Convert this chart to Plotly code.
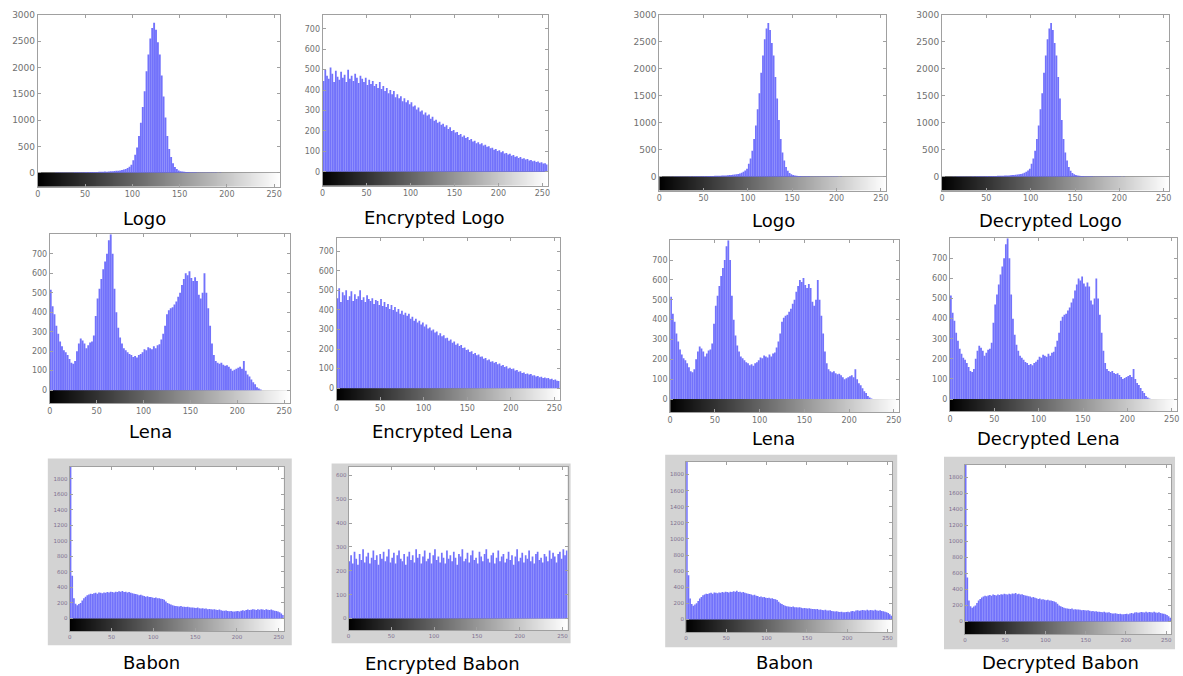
import plotly.graph_objects as go

W, H = 1183, 676

# ---- data: histogram counts in 2-level bins (left edges 0,2,...,254) ----
bin_left = list(range(0, 256, 2))
gray_levels = list(range(256))

logo = [0, 0, 0, 0, 1, 0, 2, 1, 2, 3,
        3, 4, 3, 5, 4, 6, 5, 7, 6, 8,
        8, 9, 10, 9, 11, 12, 11, 13, 14, 13,
        15, 16, 18, 17, 20, 22, 21, 25, 27, 30,
        33, 36, 40, 45, 52, 60, 72, 90, 115, 150,
        240, 340, 480, 700, 950, 1250, 1550, 1930, 2250, 2550,
        2750, 2850, 2720, 2480, 2250, 1850, 1450, 1050, 700, 450,
        300, 180, 110, 70, 45, 30, 22, 18, 14, 12,
        10, 9, 8, 8, 7, 6, 6, 5, 5, 4,
        4, 4, 3, 3, 3, 2, 3, 2, 2, 2,
        2, 1, 2, 1, 1, 1, 0, 1, 0, 0,
        0, 0, 0, 0, 0, 0, 0, 0, 0, 0,
        0, 0, 0, 0, 0, 0, 0, 0]

enc_logo = [445, 500, 470, 455, 510, 480, 440, 495, 465, 450,
            490, 460, 475, 440, 500, 455, 470, 445, 480, 460,
            435, 470, 455, 440, 460, 425, 450, 430, 445, 420,
            430, 410, 440, 405, 420, 395, 410, 385, 400, 380,
            395, 365, 380, 360, 370, 345, 360, 340, 350, 330,
            340, 320, 325, 305, 315, 295, 300, 280, 290, 275,
            280, 260, 270, 250, 255, 240, 245, 230, 235, 220,
            228, 210, 218, 200, 205, 192, 195, 180, 185, 172,
            178, 165, 170, 155, 160, 148, 152, 140, 145, 135,
            140, 128, 132, 122, 125, 115, 118, 108, 112, 102,
            105, 96, 100, 90, 92, 85, 88, 78, 82, 74,
            76, 68, 72, 64, 66, 60, 62, 55, 58, 52,
            54, 48, 50, 44, 46, 40, 42, 36]

lena = [515, 430, 390, 330, 290, 250, 225, 205, 195, 180,
        160, 140, 135, 150, 200, 240, 265, 255, 240, 215,
        230, 245, 250, 280, 380, 470, 520, 570, 620, 660,
        700, 770, 800, 700, 520, 400, 320, 270, 240, 215,
        205, 195, 185, 180, 170, 175, 168, 180, 186, 195,
        210, 205, 220, 215, 210, 225, 215, 230, 235, 260,
        290, 330, 390, 410, 420, 425, 440, 455, 480, 500,
        540, 570, 600, 590, 610, 575, 560, 580, 560, 490,
        470, 500, 600, 500, 420, 330, 240, 180, 150, 140,
        135, 140, 130, 125, 128, 120, 110, 100, 105, 110,
        115, 120, 110, 150, 100, 80, 70, 55, 40, 30,
        15, 8, 3, 0, 0, 0, 0, 0, 0, 0,
        0, 0, 0, 0, 0, 0, 0, 0]

enc_lena = [460, 510, 440, 490, 475, 500, 450, 470, 495, 445,
            480, 455, 470, 500, 450, 465, 440, 475, 455, 445,
            460, 430, 450, 445, 425, 455, 420, 440, 415, 430,
            405, 425, 400, 415, 390, 405, 380, 395, 375, 385,
            370, 380, 355, 365, 345, 355, 335, 345, 325, 335,
            315, 325, 305, 310, 295, 300, 285, 290, 270, 280,
            265, 270, 255, 258, 242, 248, 232, 238, 222, 228,
            215, 220, 205, 208, 195, 198, 185, 188, 175, 180,
            168, 172, 160, 162, 150, 154, 142, 146, 135, 138,
            130, 134, 122, 126, 115, 118, 108, 112, 100, 104,
            98, 100, 90, 93, 84, 86, 78, 80, 72, 75,
            70, 72, 64, 66, 60, 62, 56, 58, 52, 54,
            50, 52, 46, 48, 42, 44, 38, 36]

babon = [2000, 550, 260, 190, 170, 185, 200, 230, 260, 280,
         300, 310, 320, 315, 325, 330, 320, 335, 330, 325,
         335, 330, 340, 335, 345, 340, 335, 345, 340, 350,
         345, 355, 340, 345, 335, 340, 330, 325, 320, 315,
         310, 300, 305, 295, 290, 280, 285, 275, 278, 270,
         265, 270, 260, 262, 255, 250, 240, 220, 200, 190,
         180, 170, 165, 160, 158, 155, 160, 150, 152, 148,
         150, 145, 140, 142, 138, 135, 140, 132, 128, 130,
         125, 128, 120, 122, 118, 115, 120, 112, 110, 115,
         105, 100, 98, 102, 95, 92, 96, 90, 88, 92,
         95, 90, 100, 105, 98, 110, 115, 108, 112, 118,
         115, 110, 120, 112, 118, 115, 110, 120, 112, 108,
         115, 105, 100, 95, 90, 80, 65, 45]

enc_babon = [240, 265, 230, 280, 250, 225, 270, 245, 290, 235,
             260, 275, 230, 255, 285, 245, 265, 225, 270, 250,
             280, 240, 260, 290, 235, 255, 275, 230, 265, 285,
             250, 240, 270, 225, 260, 280, 245, 265, 235, 290,
             255, 270, 230, 260, 285, 240, 250, 275, 230, 265,
             290, 245, 260, 235, 275, 255, 230, 285, 250, 265,
             240, 280, 255, 225, 270, 260, 290, 240, 250, 275,
             235, 265, 285, 245, 255, 230, 280, 260, 240, 270,
             290, 250, 235, 265, 275, 230, 255, 285, 240, 260,
             270, 235, 250, 280, 245, 265, 225, 260, 290, 240,
             255, 275, 235, 265, 250, 285, 240, 260, 230, 270,
             280, 245, 255, 235, 270, 260, 240, 285, 250, 275,
             260, 235, 270, 280, 250, 290, 265, 285]

titles = ["Logo", "Encrypted Logo", "Logo", "Decrypted Logo",
          "Lena", "Encrypted Lena", "Lena", "Decrypted Lena",
          "Babon", "Encrypted Babon", "Babon", "Decrypted Babon"]
panel_series = [logo, enc_logo, logo, logo,
                lena, enc_lena, lena, lena,
                babon, enc_babon, babon, babon]
y_max = [3000, 768, 3000, 3000, 800, 766, 800, 800, 1960, 637, 1960, 1960]
y_ticks = [list(range(0, 3001, 500)), list(range(0, 701, 100)),
           list(range(0, 3001, 500)), list(range(0, 3001, 500)),
           list(range(0, 701, 100)), list(range(0, 701, 100)),
           list(range(0, 701, 100)), list(range(0, 701, 100)),
           list(range(0, 1801, 200)), list(range(0, 601, 100)),
           list(range(0, 1801, 200)), list(range(0, 1801, 200))]
x_ticks = [0, 50, 100, 150, 200, 250]

# ---- layout geometry (pixels): left, right, top, zero-line, bottom ----
boxes = [(35, 278, 10, 169, 183), (321, 547, 10, 168, 182),
         (659, 887, 10, 173, 187), (943, 1171, 10, 173, 187),
         (47, 288, 231, 388, 401), (335, 559, 235, 386, 398),
         (670, 900, 237, 397, 410), (951, 1179, 235, 397, 409),
         (67, 282, 465, 618, 631), (347, 567, 465, 618, 630),
         (686, 893, 460, 619, 632), (966, 1173, 463, 621, 634)]
title_pos = [(142, 215), (433, 214), (774, 217), (1052, 217),
             (148, 430), (441, 430), (774, 437), (1050, 437),
             (149, 662), (441, 663), (785, 662), (1062, 662)]
frames = {8: (45, 290, 457, 645), 9: (330, 570, 462, 643),
          10: (665, 898, 453, 647), 11: (945, 1177, 455, 649)}

fig = go.Figure()
layout = dict(width=W, height=H, margin=dict(l=0, r=0, t=0, b=0),
              paper_bgcolor="white", plot_bgcolor="white", showlegend=False)
shapes, annotations = [], []

BAR = "rgba(95,95,250,0.88)"

for k in range(12):
    n = k + 1
    xs = "x" if n == 1 else f"x{n}"
    ys = "y" if n == 1 else f"y{n}"
    l, r, t, z0, b = boxes[k]
    ym = y_max[k]
    g = ym * (b - z0) / (z0 - t)
    babon_like = k >= 8
    tick_col = "#7d6f8f" if babon_like else "#707070"
    if k < 4:
        fsz_y, fsz_x = (9 if k != 1 else 8), 8
    elif k < 8:
        fsz_y, fsz_x = 8, 8
    else:
        fsz_y, fsz_x = 5.5, 5.5

    fig.add_trace(go.Heatmap(
        x=list(range(257)), y=[-g, 0], z=[gray_levels],
        colorscale=[[0, "black"], [1, "white"]], zmin=0, zmax=255,
        showscale=False, hoverinfo="skip", xaxis=xs, yaxis=ys))
    fig.add_trace(go.Bar(
        x=[v + 1 for v in bin_left], y=panel_series[k], width=2.0,
        marker=dict(color=BAR, line=dict(width=0)), xaxis=xs, yaxis=ys))

    axcommon = dict(showgrid=False, showline=True, linecolor="#a0a0a0",
                    linewidth=1, mirror="ticks", ticks="inside", ticklen=3,
                    tickcolor="#a0a0a0")
    layout["xaxis" if n == 1 else f"xaxis{n}"] = dict(
        axcommon, domain=[l / W, r / W], range=[0, 256],
        anchor=ys, tickvals=x_ticks, zeroline=False,
        tickfont=dict(family="DejaVu Sans", size=fsz_x, color=tick_col))
    layout["yaxis" if n == 1 else f"yaxis{n}"] = dict(
        axcommon, domain=[1 - b / H, 1 - t / H], range=[-g, ym],
        anchor=xs, tickvals=y_ticks[k], zeroline=True,
        zerolinecolor="#8a8a8a", zerolinewidth=1,
        tickfont=dict(family="DejaVu Sans", size=fsz_y, color=tick_col))

    if k in frames:
        fl, fr, ft, fb = frames[k]
        shapes.append(dict(type="rect", xref="paper", yref="paper",
                           x0=fl / W, x1=fr / W, y0=1 - fb / H, y1=1 - ft / H,
                           fillcolor="#d3d3d3", line=dict(width=0), layer="below"))
        shapes.append(dict(type="rect", xref="paper", yref="paper",
                           x0=l / W, x1=r / W, y0=1 - b / H, y1=1 - t / H,
                           fillcolor="white", line=dict(width=0), layer="below"))

    cx, cy = title_pos[k]
    annotations.append(dict(text=titles[k], xref="paper", yref="paper",
                            x=cx / W, y=1 - cy / H, xanchor="center",
                            yanchor="middle", showarrow=False,
                            font=dict(family="DejaVu Sans", size=18, color="black")))

layout["shapes"] = shapes
layout["annotations"] = annotations
fig.update_layout(**layout)
fig.write_html(
    "out.html",
    config={"displayModeBar": False},
    post_script="document.body.style.margin='0px';document.body.style.overflow='hidden';",
)
